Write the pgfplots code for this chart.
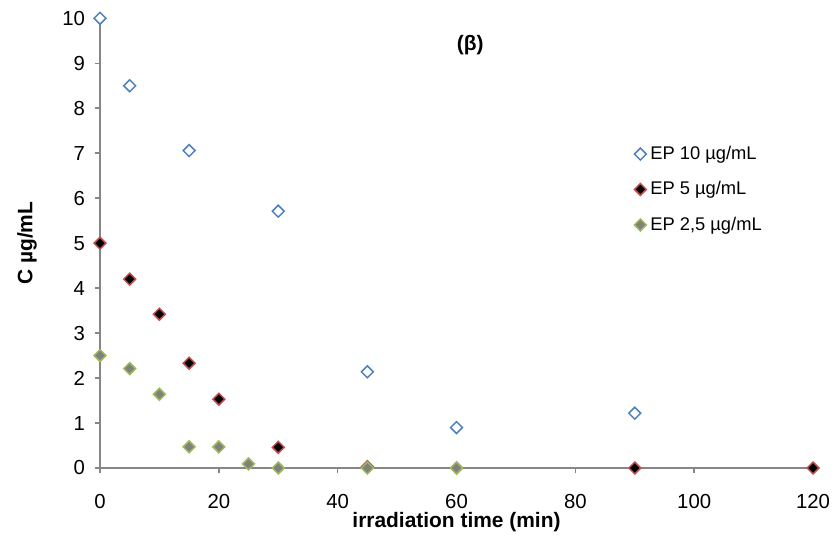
\documentclass[border=0pt]{standalone}
\usepackage{pgfplots}
\pgfplotsset{compat=1.18}
\usepackage{fontspec}
\setmainfont{Liberation Sans}
\definecolor{exblue}{HTML}{4F81BD}
\definecolor{exred}{HTML}{C0504D}
\definecolor{exgreen}{HTML}{9BBB59}
\definecolor{axgray}{HTML}{868686}
\begin{document}
\begin{tikzpicture}
\path[use as bounding box] (0,0) rectangle (417bp,269.5bp);
\begin{axis}[
  at={(50bp,35.5bp)}, anchor=south west,
  scale only axis, width=356.5bp, height=224.85bp,
  xmin=0, xmax=120, ymin=0, ymax=10,
  xtick={0,20,...,120}, ytick={0,1,...,10},
  axis x line=bottom, axis y line=left,
  axis line style={-, draw=axgray, line width=0.75bp},
  tick style={draw=axgray, line width=0.75bp},
  tick align=outside, major tick length=2.5bp,
  clip=false,
  /pgf/number format/assume math mode=true,
  tick label style={font=\fontsize{10.2}{12}\selectfont},
  xticklabel style={yshift=-7bp},
  yticklabel style={xshift=-1.5bp},
  xlabel={\bfseries irradiation time (min)},
  ylabel={\bfseries C µg/mL},
  label style={font=\fontsize{10.5}{12.6}\selectfont},
  xlabel style={at={(axis description cs:0.5,-0.12)}, anchor=center},
  ylabel style={at={(axis description cs:-0.1024,0.5)}, anchor=center},
  legend style={draw=none, fill=none, at={(rel axis cs:0.749,0.726)}, anchor=north west,
    font=\fontsize{9.2}{11}\selectfont, row sep=5.6bp, inner sep=0pt},
  legend cell align=left,
  legend image code/.code={\draw[#1] plot coordinates {(0.155cm,0cm)};},
]
\addplot[only marks, mark=square*, mark size=2.1bp, mark options={rotate=45, draw=exblue, fill=white, line width=0.75bp}]
 coordinates {(0,10) (5,8.50) (15,7.06) (30,5.71) (45,2.14) (60,0.90) (90,1.22)};
\addlegendentry{EP 10 µg/mL}
\addplot[only marks, mark=square*, mark size=2.1bp, mark options={rotate=45, draw=exred, fill=black, line width=0.75bp}]
 coordinates {(0,5) (5,4.20) (10,3.42) (15,2.33) (20,1.53) (30,0.46) (45,0.03) (60,0) (90,0) (120,0)};
\addlegendentry{EP 5 µg/mL}
\addplot[only marks, mark=square*, mark size=2.1bp, mark options={rotate=45, draw=exgreen, fill=gray, line width=0.75bp}]
 coordinates {(0,2.5) (5,2.21) (10,1.64) (15,0.47) (20,0.47) (25,0.09) (30,0) (45,0) (60,0)};
\addlegendentry{EP 2,5 µg/mL}
\node[font=\bfseries\fontsize{10.5}{12.6}\selectfont] at (axis cs:62.3,9.4) {(β)};
\end{axis}
\end{tikzpicture}
\end{document}
